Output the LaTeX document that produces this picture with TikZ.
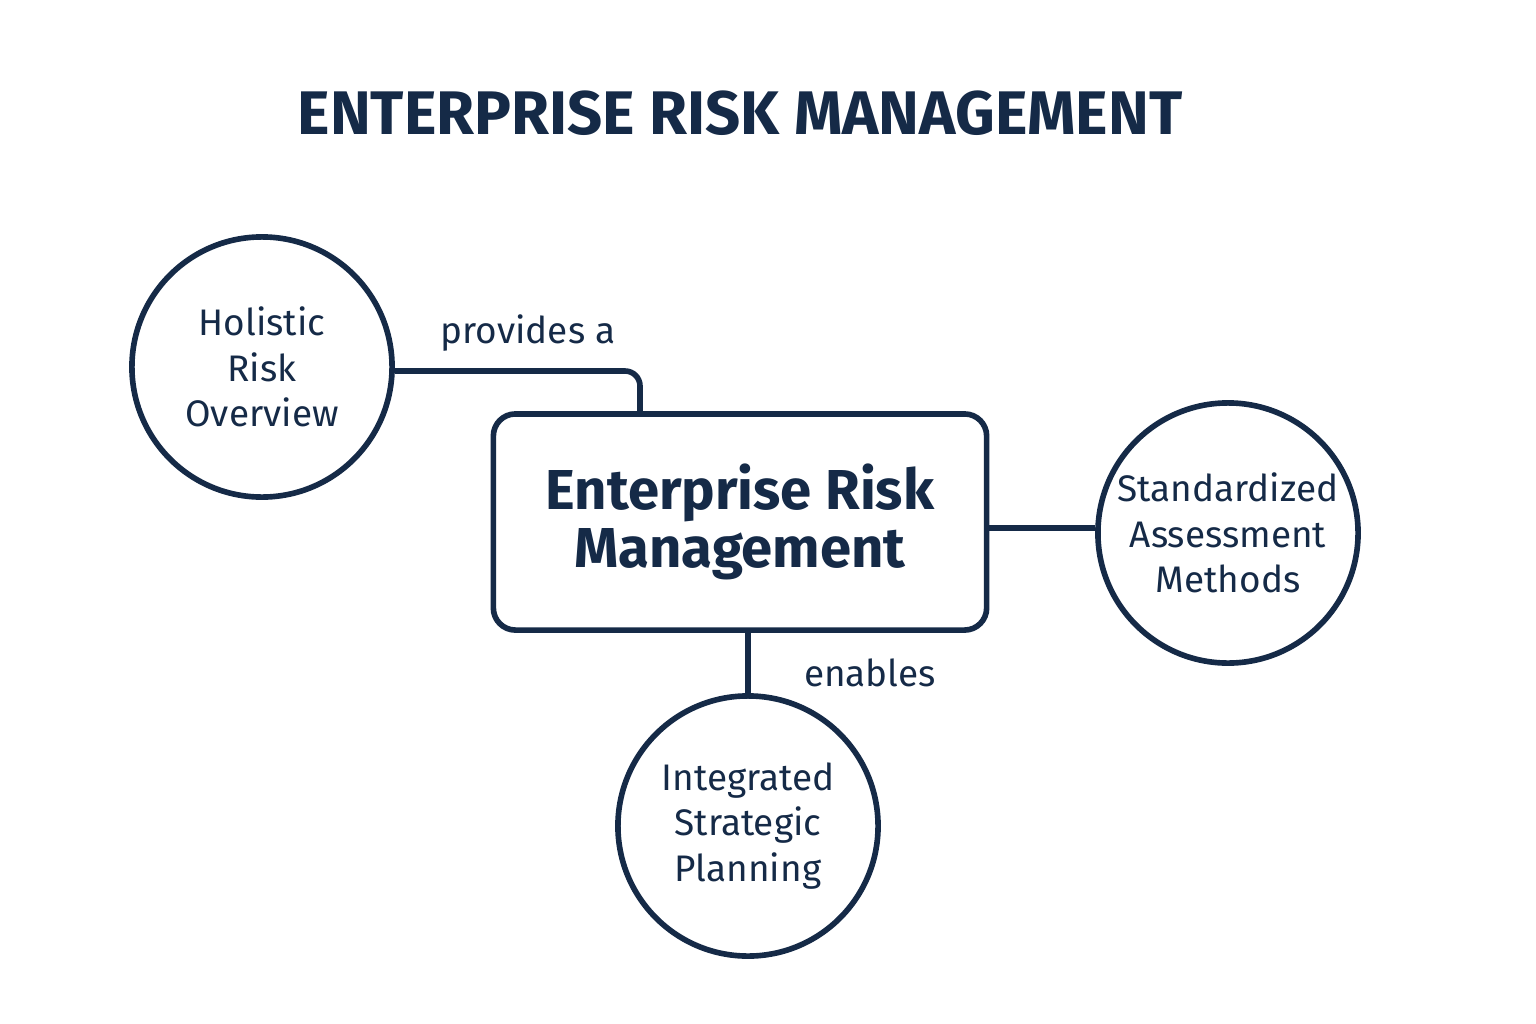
\documentclass[tikz,border=0pt]{standalone}
\usepackage{fontspec}
\setmainfont{Fira Sans}
\usetikzlibrary{positioning}
\definecolor{ERMNavy}{HTML}{152A47}

\begin{document}
\begin{tikzpicture}[
				x=0.01cm, y=-0.01cm,
				line width=1.6pt,
				every node/.style={text=ERMNavy},
				topic/.style={
					draw=ERMNavy,
					circle,
					inner sep=0pt,
					minimum size=2.6cm,
					align=center,
					font=\fontsize{10.5}{13}\selectfont
				},
				core/.style={
					draw=ERMNavy,
					rectangle,
					rounded corners=0.22cm,
					minimum width=4.93cm,
					minimum height=2.16cm,
					align=center,
					font=\fontsize{16}{16.5}\selectfont\bfseries
				},
				link/.style={
					draw=ERMNavy,
					rounded corners=0.15cm
				},
				tag/.style={font=\fontsize{10.5}{13}\selectfont}
				]
				\useasboundingbox[fill=white] (0,0) rectangle (1536,1024);
				\node[font=\fontsize{17.5}{20}\selectfont\bfseries] (title) at (740,113) {ENTERPRISE RISK MANAGEMENT};
				\node[core] (erm) at (740,522) {Enterprise Risk\\Management};
				\node[topic] (holistic) at (262,367) {Holistic\\Risk\\Overview};
				\node[topic] (methods) at (1228,533) {Standardized\\Assessment\\Methods};
				\node[topic] (planning) at (748,826) {Integrated\\Strategic\\Planning};
				\coordinate (bend) at (640,371);
				\draw[link] (holistic.east |- bend) -- (bend) -- (bend |- erm.north);
				\draw[link] (erm.east |- 0,528) -- (methods.west |- 0,528);
				\draw[link] (planning.north |- erm.south) -- (planning.north);
				\node[tag] (provides) at (528,333) {provides a};
				\node[tag] (enables) at (870,673) {enables};
			\end{tikzpicture}
\end{document}
